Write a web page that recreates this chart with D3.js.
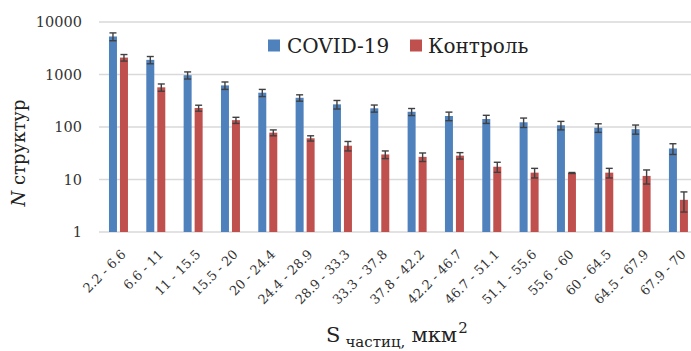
<!DOCTYPE html>
<html><head><meta charset="utf-8">
<script src="https://cdn.jsdelivr.net/npm/d3@7"></script>
<style>html,body{margin:0;padding:0;background:#fff;overflow:hidden}</style>
</head><body>
<svg id="c" width="691" height="351"></svg>
<script>
const categories = ["2.2 - 6.6","6.6 - 11","11 - 15.5","15.5 - 20","20 - 24.4","24.4 - 28.9","28.9 - 33.3","33.3 - 37.8","37.8 - 42.2","42.2 - 46.7","46.7 - 51.1","51.1 - 55.6","55.6 - 60","60 - 64.5","64.5 - 67.9","67.9 - 70"];
const covid = [5300,1900,970,620,450,360,270,227,195,162,142,123,108,97,91,39];
const covidErr = [900,300,150,100,70,50,50,35,30,30,25,25,20,18,18,9];
const control = [2100,570,230,135,78,61,44,30,27,28.5,17.5,13.5,13.3,13.5,11.7,4.1];
const controlErr = [300,90,30,18,10,7,9,5,5,4,3.8,2.8,0.3,2.8,3.5,1.7];
const yTicks = [1,10,100,1000,10000];
const seriesNames = ["COVID-19","Контроль"];
const colors = ["#4F81BD","#C0504D"];

const svg = d3.select("#c");
const font = "DejaVu Serif";
const x = d3.scaleBand().domain(categories).range([99.8, 697.1]).padding(0);
const y = d3.scaleLog().domain([1,10000]).range([232,22]);

// gridlines
svg.append("g").selectAll("line").data(yTicks).join("line")
  .attr("x1", 99).attr("x2", 691)
  .attr("y1", d=>y(d)).attr("y2", d=>y(d))
  .attr("stroke", "#d9d9d9").attr("stroke-width", 1.3);

// y tick labels
svg.append("g").selectAll("text").data(yTicks).join("text")
  .attr("x", 82).attr("y", d=>y(d)).attr("dy","0.36em")
  .attr("text-anchor","end").attr("font-family", font).attr("font-size", 14.5)
  .attr("fill","#333").text(d=>d);

const series = [covid, control];
const errs = [covidErr, controlErr];
const offs = [-5.5, 5.5];
const bw = 8;
series.forEach((vals, si) => {
  const g = svg.append("g");
  g.selectAll("rect").data(vals).join("rect")
    .attr("x", (d,i)=>x(categories[i]) + x.bandwidth()/2 + offs[si] - bw/2)
    .attr("width", bw)
    .attr("y", d=>y(d))
    .attr("height", d=>y(1)-y(d))
    .attr("fill", colors[si]);
  const e = svg.append("g").attr("stroke","#404040").attr("stroke-width",1.4);
  vals.forEach((v,i)=>{
    const cx = x(categories[i]) + x.bandwidth()/2 + offs[si];
    const lo = Math.max(1, v - errs[si][i]), hi = v + errs[si][i];
    e.append("line").attr("x1",cx).attr("x2",cx).attr("y1",y(lo)).attr("y2",y(hi));
    e.append("line").attr("x1",cx-3.5).attr("x2",cx+3.5).attr("y1",y(lo)).attr("y2",y(lo));
    e.append("line").attr("x1",cx-3.5).attr("x2",cx+3.5).attr("y1",y(hi)).attr("y2",y(hi));
  });
});

// x tick labels
svg.append("g").selectAll("text").data(categories).join("text")
  .attr("transform", d=>`translate(${x(d)+x.bandwidth()/2+5},${252}) rotate(-45)`)
  .attr("text-anchor","end").attr("font-family", font).attr("font-size", 13)
  .attr("fill","#333").attr("dy","0.35em").text(d=>d);

// legend
const leg = [[268,287],[410,428]];
seriesNames.forEach((n,i)=>{
  svg.append("rect").attr("x",leg[i][0]).attr("y",39.5).attr("width",12).attr("height",12).attr("fill",colors[i]);
  svg.append("text").attr("x",leg[i][1]).attr("y",46).attr("dy","0.36em")
    .attr("font-family",font).attr("font-size",20).attr("fill","#222").text(n);
});

// y axis title
const yt = svg.append("text").attr("transform","translate(25,153) rotate(-90)")
  .attr("text-anchor","middle").attr("font-family",font).attr("font-size",18).attr("fill","#222");
yt.append("tspan").attr("font-style","italic").text("N");
yt.append("tspan").text(" структур");

// x axis title
const xt = svg.append("text").attr("x",326).attr("y",342).attr("font-family",font).attr("fill","#222");
xt.append("tspan").attr("font-size",21).text("S");
xt.append("tspan").attr("font-size",15).attr("dx",5).attr("dy",5).text("частиц,");
xt.append("tspan").attr("font-size",21).attr("dx",6).attr("dy",-5).text("мкм");
xt.append("tspan").attr("font-size",15).attr("dx",1).attr("dy",-9).text("2");
</script>
</body></html>
